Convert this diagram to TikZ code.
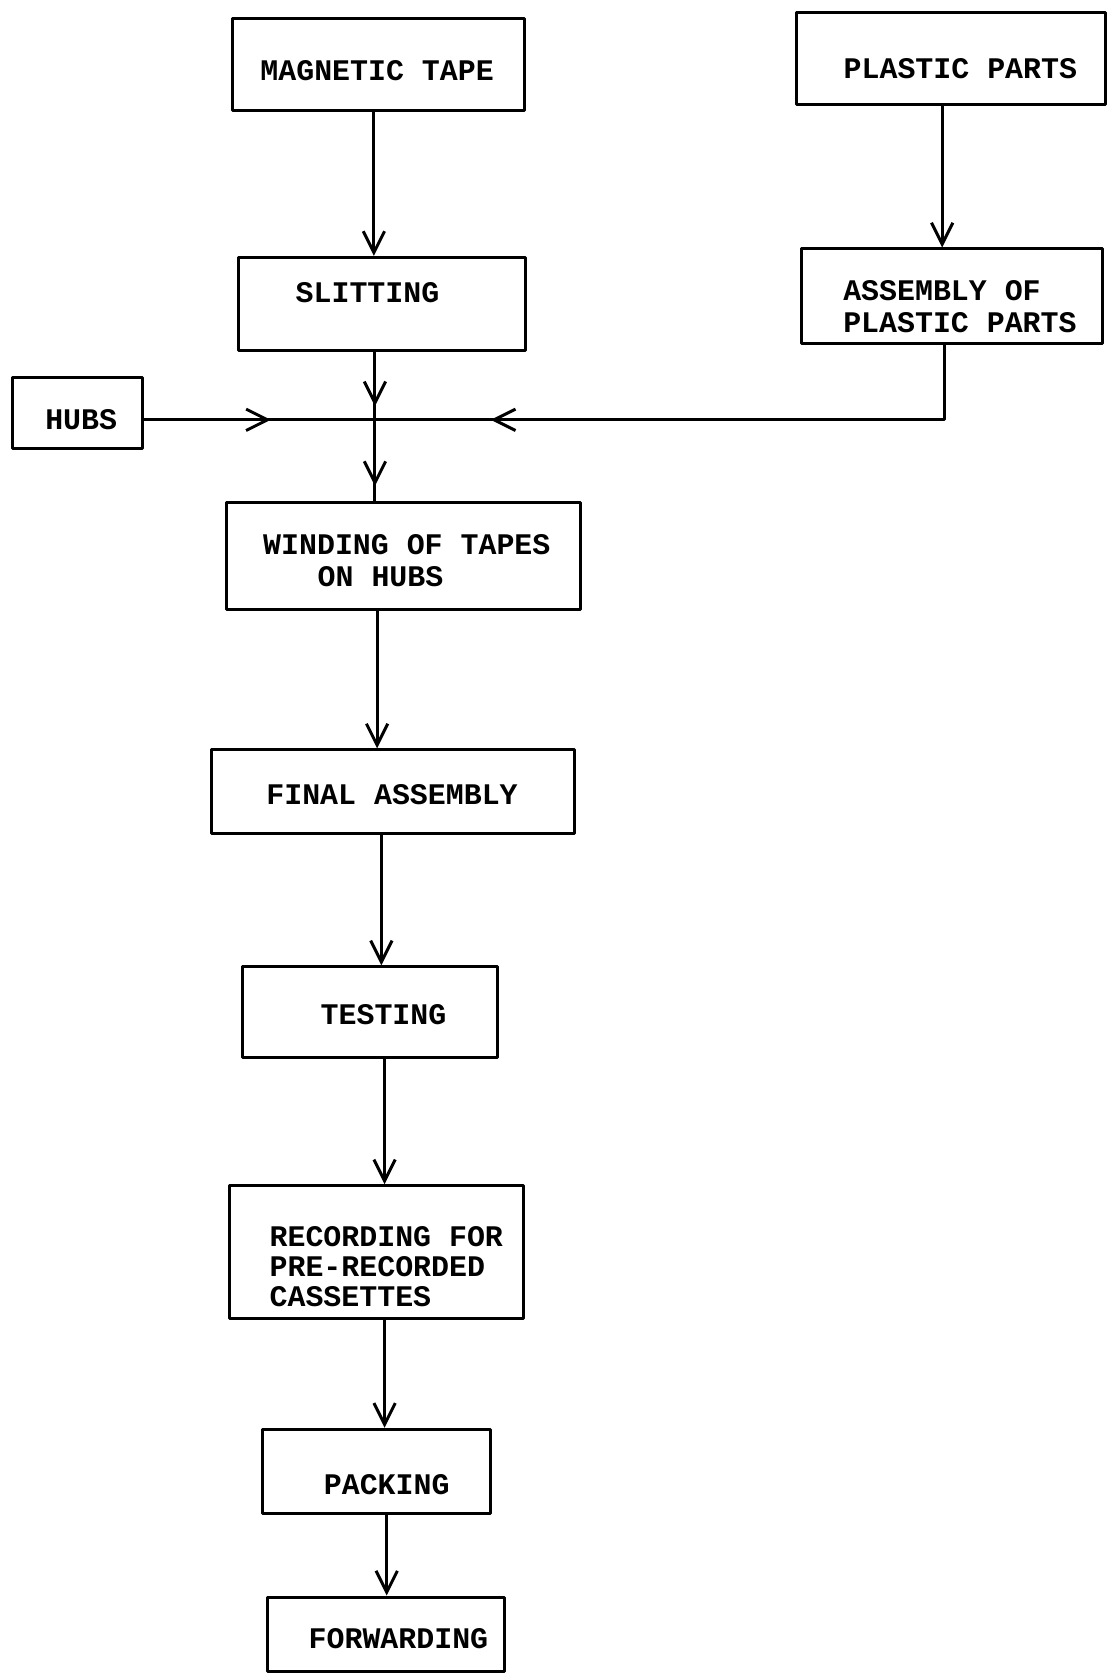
\documentclass[tikz,border=0pt]{standalone}
\usepackage{fontspec}
\setmainfont{Liberation Mono}
\usetikzlibrary{arrows.meta,fit,decorations.markings}
\tikzset{
  box/.style={draw, line width=1.4pt, inner sep=0pt},
  lbl/.style={font=\fontsize{14}{15}\selectfont\bfseries, inner sep=0pt},
  arr/.style={-{Straight Barb[length=10pt,width=10pt]}},
  midarr/.style={postaction={decorate,decoration={markings,
      mark=at position #1 with {\arrow{Straight Barb[length=10pt,width=10pt]}}}}}
}
\begin{document}
\begin{tikzpicture}[x=0.5pt,y=-0.5pt,line width=1.4pt,line cap=round,line join=round]
\useasboundingbox (0,0) rectangle (1042,1568);

% boxes
\node[box, fit={(218,17) (491,103)}] (mag) {};
\node[lbl] (magT) at (353,66) {MAGNETIC TAPE};

\node[box, fit={(223,241) (492,328)}] (slit) {};
\node[lbl] (slitT) at (344,274) {SLITTING};

\node[box, fit={(746,12) (1035,98)}] (pp) {};
\node[lbl] (ppT) at (899,64) {PLASTIC PARTS};

\node[box, fit={(750,233) (1032,322)}] (asm) {};
\node[lbl, align=left, anchor=west] (asmT) at (788,287) {ASSEMBLY OF\\PLASTIC PARTS};

\node[box, fit={(12,353) (133,420)}] (hubs) {};
\node[lbl] (hubsT) at (76,393) {HUBS};

\node[box, fit={(212,470) (543,571)}] (wind) {};
\node[lbl, align=left, anchor=west] (windT) at (245,525) {WINDING OF TAPES\\\hspace*{25.5pt}ON HUBS};

\node[box, fit={(198,702) (538,780)}] (fin) {};
\node[lbl] (finT) at (367,744) {FINAL ASSEMBLY};

\node[box, fit={(227,905) (466,990)}] (test) {};
\node[lbl] (testT) at (359,950) {TESTING};

\node[box, fit={(215,1110) (490,1234)}] (rec) {};
\node[lbl, align=left, anchor=west, font=\fontsize{14}{14}\selectfont\bfseries] (recT) at (251,1186) {RECORDING FOR\\PRE-RECORDED\\CASSETTES};

\node[box, fit={(246,1338) (459,1417)}] (pack) {};
\node[lbl] (packT) at (362,1390) {PACKING};

\node[box, fit={(250,1495) (472,1565)}] (fwd) {};
\node[lbl] (fwdT) at (373,1534) {FORWARDING};

% junction
\coordinate (j) at (351,393);

% connectors
\draw[arr] (mag.south -| 350,0) -- (slit.north -| 350,0);
\draw[arr] (pp.south -| 882,0) -- (asm.north -| 882,0);
\draw[midarr=0.8] (slit.south -| j) -- (j);
\draw[midarr=0.55] (hubs.east |- j) -- (j);
\draw[midarr=0.82] (asm.south -| 884,0) |- (j);
\draw[midarr=0.82] (j) -- (wind.north -| j);
\draw[arr] (wind.south -| 353,0) -- (fin.north -| 353,0);
\draw[arr] (fin.south -| 357,0) -- (test.north -| 357,0);
\draw[arr] (test.south -| 360,0) -- (rec.north -| 360,0);
\draw[arr] (rec.south -| 360,0) -- (pack.north -| 360,0);
\draw[arr] (pack.south -| 362,0) -- (fwd.north -| 362,0);
\end{tikzpicture}
\end{document}
